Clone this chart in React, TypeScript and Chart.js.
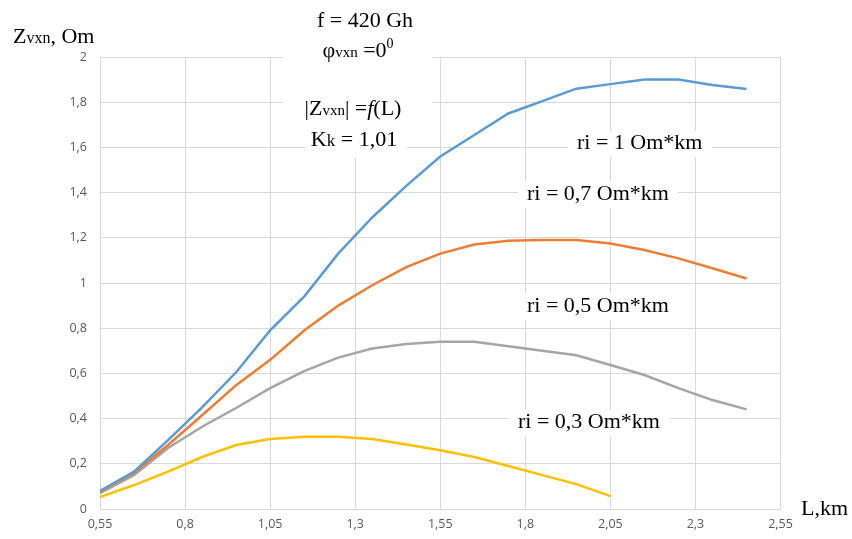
import React, { useEffect, useRef } from "react";
import { Chart, registerables } from "chart.js";

Chart.register(...registerables);

const lengths = [0.55, 0.65, 0.75, 0.85, 0.95, 1.05, 1.15, 1.25, 1.35, 1.45, 1.55, 1.65, 1.75, 1.85, 1.95, 2.05, 2.15, 2.25, 2.35, 2.45];
const ri1 = [0.08, 0.165, 0.305, 0.45, 0.605, 0.79, 0.94, 1.13, 1.29, 1.43, 1.56, 1.655, 1.75, 1.805, 1.86, 1.88, 1.9, 1.9, 1.876, 1.858];
const ri07 = [0.077, 0.16, 0.283, 0.415, 0.548, 0.66, 0.79, 0.9, 0.99, 1.07, 1.13, 1.17, 1.187, 1.19, 1.19, 1.175, 1.146, 1.109, 1.065, 1.02];
const ri05 = [0.07, 0.15, 0.27, 0.364, 0.447, 0.535, 0.61, 0.67, 0.71, 0.73, 0.74, 0.74, 0.72, 0.7, 0.68, 0.637, 0.593, 0.535, 0.482, 0.441];
const ri03 = [0.053, 0.106, 0.165, 0.23, 0.283, 0.31, 0.32, 0.32, 0.31, 0.285, 0.26, 0.23, 0.19, 0.15, 0.11, 0.057];

const xTicks = [0.55, 0.8, 1.05, 1.3, 1.55, 1.8, 2.05, 2.3, 2.55];
const seriesColors = ["#5B9BD5", "#ED7D31", "#A5A5A5", "#FFC000"];
const seriesNames = ["ri = 1 Om*km", "ri = 0,7 Om*km", "ri = 0,5 Om*km", "ri = 0,3 Om*km"];

const SERIF = '"Liberation Serif", "Times New Roman", serif';
const TICK_FONT = '"Open Sans", "Liberation Sans", sans-serif';

type Seg = { t: string; s: number; italic?: boolean; dy?: number };

function segFont(g: Seg) {
  return `${g.italic ? "italic " : ""}${g.s}px ${SERIF}`;
}

function richWidth(ctx: CanvasRenderingContext2D, segs: Seg[]) {
  let w = 0;
  for (const g of segs) {
    ctx.font = segFont(g);
    w += ctx.measureText(g.t).width;
  }
  return w;
}

function drawRich(ctx: CanvasRenderingContext2D, segs: Seg[], x: number, y: number, center: boolean) {
  const w = richWidth(ctx, segs);
  let cx = center ? x - w / 2 : x;
  ctx.fillStyle = "#000";
  ctx.textBaseline = "alphabetic";
  ctx.textAlign = "left";
  for (const g of segs) {
    ctx.font = segFont(g);
    ctx.fillText(g.t, cx, y + (g.dy || 0));
    cx += ctx.measureText(g.t).width;
  }
}

const riLabels: { segs: Seg[]; x: number; y: number }[] = [
  { segs: [{ t: seriesNames[0], s: 22 }], x: 577, y: 149 },
  { segs: [{ t: seriesNames[1], s: 22 }], x: 527, y: 200 },
  { segs: [{ t: seriesNames[2], s: 22 }], x: 527, y: 312 },
  { segs: [{ t: seriesNames[3], s: 22 }], x: 518, y: 428 },
];

const annotationPlugin = {
  id: "annot",
  beforeDatasetsDraw(chart: any) {
    const ctx: CanvasRenderingContext2D = chart.ctx;
    ctx.save();
    ctx.fillStyle = "#fff";
    ctx.fillRect(283, 28, 149, 92);
    ctx.fillRect(305, 118, 102, 40);
    for (const l of riLabels) {
      const w = richWidth(ctx, l.segs);
      ctx.fillRect(l.x - 9, l.y - 18, w + 18, 26);
    }
    ctx.restore();
  },
  afterDraw(chart: any) {
    const ctx: CanvasRenderingContext2D = chart.ctx;
    ctx.save();
    drawRich(ctx, [{ t: "Z", s: 22 }, { t: "vxn", s: 16 }, { t: ", Om", s: 22 }], 13, 43, false);
    drawRich(ctx, [{ t: "f = 420 Gh", s: 22 }], 365, 27, true);
    drawRich(ctx, [{ t: "φ", s: 22 }, { t: "vxn", s: 15 }, { t: " =0", s: 22 }, { t: "0", s: 14, dy: -9 }], 358, 57, true);
    drawRich(ctx, [{ t: "|Z", s: 22 }, { t: "vxn", s: 15 }, { t: "| =", s: 22 }, { t: "f", s: 22, italic: true }, { t: "(L)", s: 22 }], 353, 115, true);
    drawRich(ctx, [{ t: "K", s: 22 }, { t: "k", s: 17 }, { t: " = 1,01", s: 22 }], 354, 146, true);
    for (const l of riLabels) drawRich(ctx, l.segs, l.x, l.y, false);
    drawRich(ctx, [{ t: "L,km", s: 22 }], 801, 515, false);
    ctx.restore();
  },
};

const fmt = (v: number) => String(Math.round(v * 100) / 100).replace(".", ",");

export default function App() {
  const ref = useRef<HTMLCanvasElement | null>(null);
  useEffect(() => {
    if (!ref.current) return;
    const all = [ri1, ri07, ri05, ri03];
    const chart = new Chart(ref.current, {
      type: "line",
      data: {
        datasets: all.map((arr, i) => ({
          label: seriesNames[i],
          data: arr.map((v, j) => ({ x: lengths[j], y: v })),
          borderColor: seriesColors[i],
          backgroundColor: seriesColors[i],
          borderWidth: 2.5,
          pointRadius: 0,
          tension: 0,
          fill: false,
        })),
      },
      options: {
        animation: false,
        responsive: false,
        maintainAspectRatio: false,
        layout: { padding: { top: 57, right: 71.5, left: 0, bottom: 0 } },
        plugins: { legend: { display: false }, tooltip: { enabled: false } },
        scales: {
          x: {
            type: "linear",
            min: 0.55,
            max: 2.55,
            afterBuildTicks: (scale: any) => {
              scale.ticks = xTicks.map((v) => ({ value: v }));
            },
            afterFit: (scale: any) => {
              scale.height = 30;
            },
            grid: { color: "#D9D9D9", lineWidth: 1, drawTicks: false },
            border: { color: "#D9D9D9", width: 1 },
            ticks: {
              autoSkip: false,
              maxRotation: 0,
              padding: 8,
              color: "#595959",
              font: { family: TICK_FONT, size: 12.5 },
              callback: (v: any) => fmt(Number(v)),
            },
          },
          y: {
            min: 0,
            max: 2,
            afterFit: (scale: any) => {
              scale.width = 100;
            },
            grid: { color: "#D9D9D9", lineWidth: 1, drawTicks: false },
            border: { display: false },
            ticks: {
              stepSize: 0.2,
              padding: 13,
              color: "#595959",
              font: { family: TICK_FONT, size: 12.5 },
              callback: (v: any) => fmt(Number(v)),
            },
          },
        },
      },
      plugins: [annotationPlugin],
    } as any);
    return () => chart.destroy();
  }, []);
  return (
    <div style={{ position: "fixed", left: 0, top: 0, width: 852, height: 539, background: "#fff" }}>
      <canvas ref={ref} width={852} height={539} style={{ width: 852, height: 539, display: "block" }} />
    </div>
  );
}
